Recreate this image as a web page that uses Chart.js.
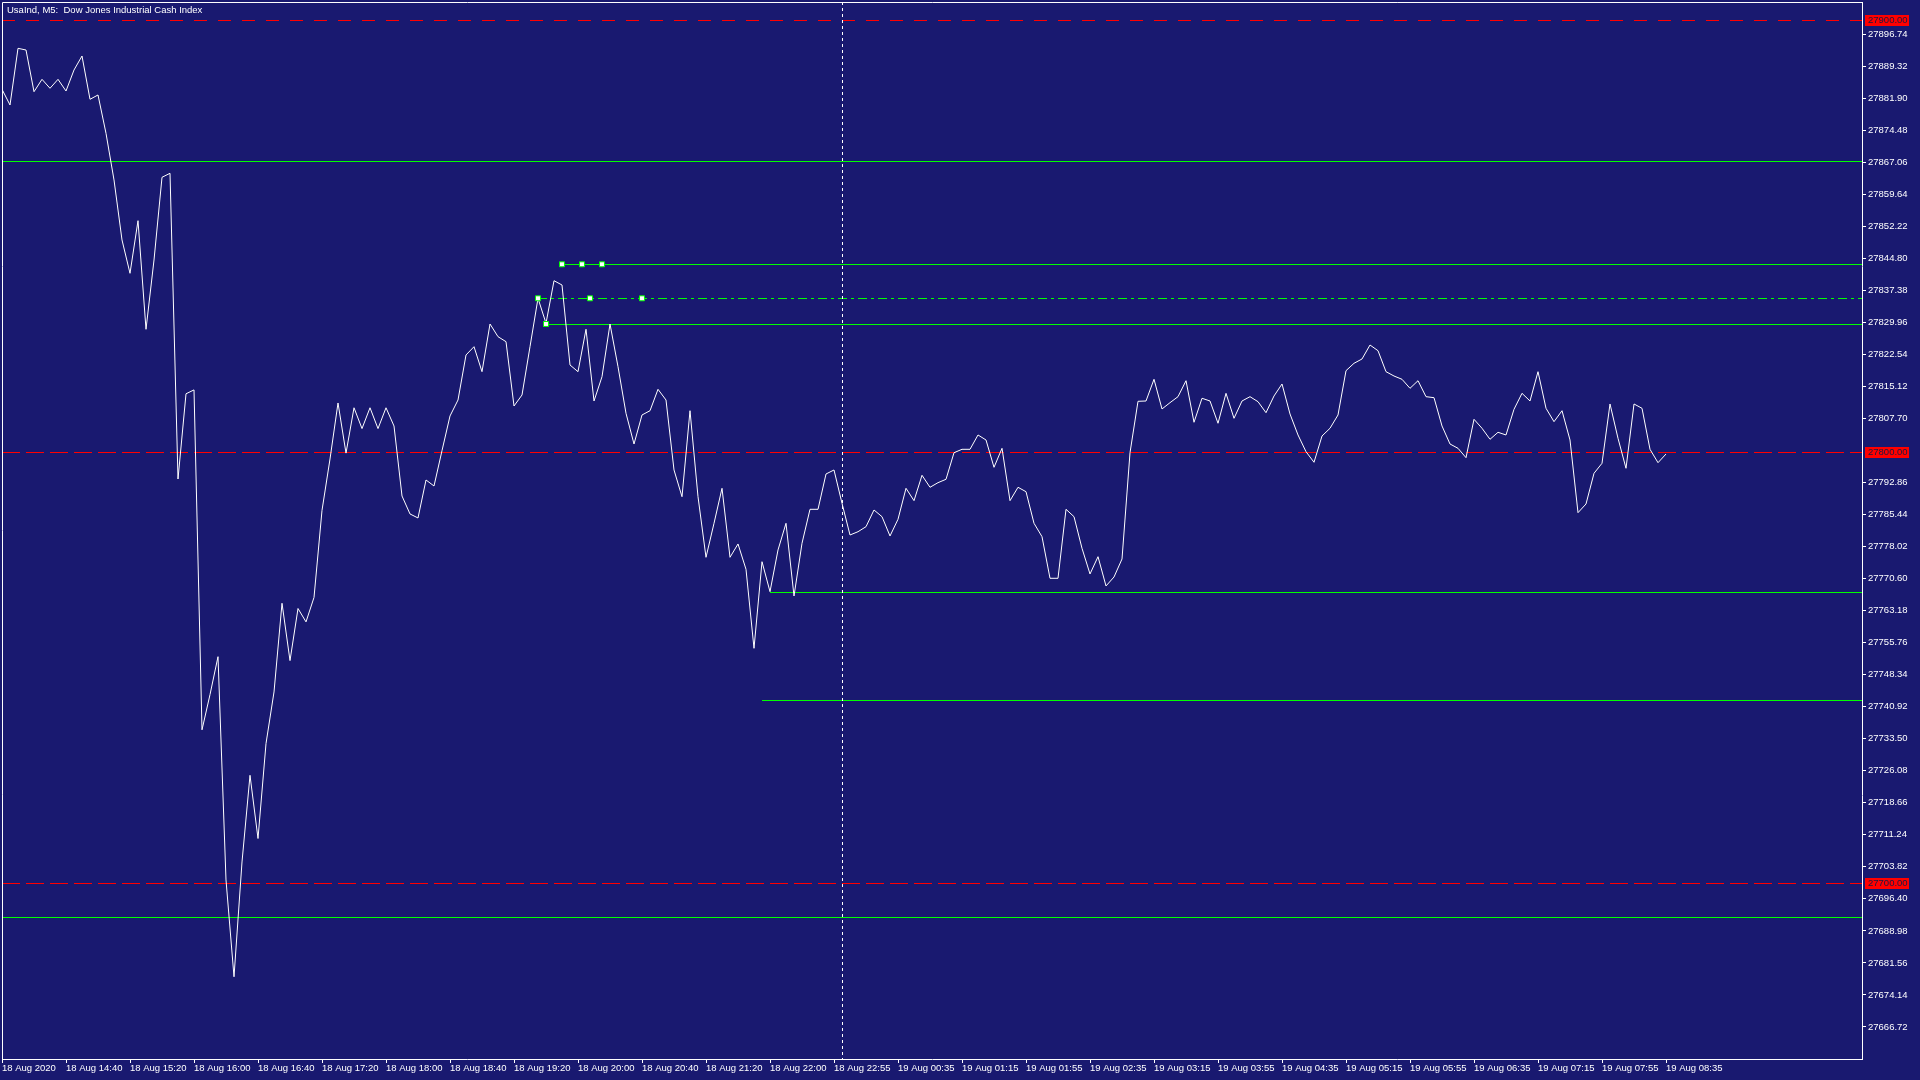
<!DOCTYPE html>
<html>
<head>
<meta charset="utf-8">
<title>UsaInd, M5</title>
<script src="https://cdn.jsdelivr.net/npm/chart.js@4.4.1/dist/chart.umd.min.js"></script>
<style>
  html, body { margin: 0; padding: 0; background: #191970; }
  #wrap { width: 1920px; height: 1080px; position: relative; }
</style>
</head>
<body>
<div id="wrap"><canvas id="priceChart"></canvas></div>
<script>
// Chart data (M5 closes, one per bar)
const chartTitle = "UsaInd, M5:  Dow Jones Industrial Cash Index";

const closes = [
  27883.94, 27880.30, 27893.43, 27893.04, 27883.38, 27886.25, 27884.17, 27886.25, 27883.54, 27888.41,
  27891.65, 27881.62, 27882.62, 27873.74, 27862.93, 27849.03, 27841.31, 27853.50, 27828.34, 27844.39,
  27863.55, 27864.48, 27793.66, 27813.40, 27814.30, 27735.56, 27743.72, 27752.50, 27700.77, 27678.35,
  27704.94, 27725.02, 27710.38, 27732.37, 27744.32, 27764.87, 27751.59, 27763.66, 27760.56, 27766.23,
  27786.39, 27798.30, 27811.27, 27799.66, 27810.16, 27805.34, 27810.16, 27805.34, 27810.16, 27805.94,
  27789.72, 27785.56, 27784.63, 27793.43, 27792.04, 27800.24, 27808.26, 27811.96, 27822.39, 27824.31,
  27818.52, 27829.57, 27826.63, 27825.47, 27810.57, 27813.12, 27824.31, 27835.52, 27829.73, 27839.60,
  27838.60, 27820.07, 27818.52, 27828.34, 27811.73, 27817.36, 27829.57, 27819.68, 27808.88, 27801.77,
  27808.49, 27809.48, 27814.44, 27811.96, 27795.75, 27789.56, 27809.48, 27789.56, 27775.52, 27783.40,
  27791.51, 27775.52, 27778.61, 27772.74, 27754.44, 27774.50, 27767.56, 27777.22, 27783.40, 27766.56,
  27778.77, 27786.64, 27786.64, 27794.82, 27795.75, 27788.03, 27780.69, 27781.45, 27782.61, 27786.48,
  27784.93, 27780.46, 27784.33, 27791.51, 27788.64, 27794.52, 27791.74, 27792.81, 27793.59, 27799.75,
  27800.54, 27800.54, 27803.86, 27802.70, 27796.37, 27800.77, 27788.64, 27791.74, 27790.72, 27783.40,
  27780.30, 27770.66, 27770.66, 27786.64, 27784.93, 27777.61, 27771.66, 27775.66, 27768.88, 27770.96,
  27775.13, 27799.75, 27811.66, 27811.73, 27816.76, 27809.88, 27811.34, 27812.73, 27816.43, 27806.80,
  27812.36, 27811.73, 27806.57, 27813.51, 27807.72, 27811.73, 27812.73, 27811.57, 27809.02, 27812.89,
  27815.67, 27808.72, 27803.86, 27799.99, 27797.53, 27803.62, 27805.41, 27808.49, 27818.75, 27820.46,
  27821.46, 27824.70, 27823.38, 27818.52, 27817.52, 27816.76, 27814.67, 27816.43, 27812.73, 27812.50,
  27805.94, 27801.77, 27800.77, 27798.60, 27807.49, 27805.41, 27802.86, 27804.48, 27803.86, 27809.81,
  27813.51, 27811.73, 27818.52, 27810.04, 27806.94, 27809.48, 27802.70, 27785.86, 27787.87, 27794.98,
  27797.30, 27811.04, 27803.09, 27796.14, 27811.04, 27810.04, 27800.54, 27797.44, 27799.45
];

const xTickLabels = [
  "18 Aug 2020", "18 Aug 14:40", "18 Aug 15:20", "18 Aug 16:00", "18 Aug 16:40", "18 Aug 17:20",
  "18 Aug 18:00", "18 Aug 18:40", "18 Aug 19:20", "18 Aug 20:00", "18 Aug 20:40", "18 Aug 21:20",
  "18 Aug 22:00", "18 Aug 22:55", "19 Aug 00:35", "19 Aug 01:15", "19 Aug 01:55", "19 Aug 02:35",
  "19 Aug 03:15", "19 Aug 03:55", "19 Aug 04:35", "19 Aug 05:15", "19 Aug 05:55", "19 Aug 06:35",
  "19 Aug 07:15", "19 Aug 07:55", "19 Aug 08:35"
];
const barsPerTick = 8;

const yTickLabels = [
  27666.72, 27674.14, 27681.56, 27688.98, 27696.40, 27703.82, 27711.24, 27718.66, 27726.08, 27733.50,
  27740.92, 27748.34, 27755.76, 27763.18, 27770.60, 27778.02, 27785.44, 27792.86, 27807.70, 27815.12,
  27822.54, 27829.96, 27837.38, 27844.80, 27852.22, 27859.64, 27867.06, 27874.48, 27881.90, 27889.32,
  27896.74
];
const yMin = 27659.30;
const yMax = 27904.16;
const xMax = 232.5;

// price levels (horizontal objects) on the chart
const redLevels = [27900, 27800, 27700];
const greenLevels = [27867.26, 27843.40, 27829.57, 27767.49, 27742.40, 27692.13];
const greenStarts = [0, 70, 68, 96, 95, 0];
const dashDotLevel = 27835.52;
const dashDotStart = 67;
const anchorBars = [70, 72.5, 75, 67, 73.5, 80, 68];
const anchorPrices = [27843.40, 27843.40, 27843.40, 27835.52, 27835.52, 27835.52, 27829.57];
const crosshairBar = 105;

const FONT_FAMILY = '"Liberation Sans", Arial, sans-serif';
const FONT_SIZE = 9.5;
const GREEN = "#00ff00";
const RED = "#ff0000";

// horizontal levels + crosshair, snapped to whole pixels like the terminal does
const levelLines = {
    id: "levelLines",
    beforeDatasetsDraw(chart) {
        const { ctx, chartArea: a } = chart;
        const { x, y } = chart.scales;
        ctx.save();
        ctx.beginPath();
        ctx.rect(a.left, a.top, a.width, a.height);
        ctx.clip();
        ctx.lineWidth = 1;

        function hline(value, fromBar, color, dash) {
            const py = Math.round(y.getPixelForValue(value)) + 0.5;
            ctx.strokeStyle = color;
            ctx.setLineDash(dash);
            ctx.beginPath();
            ctx.moveTo(Math.round(x.getPixelForValue(fromBar)), py);
            ctx.lineTo(a.right, py);
            ctx.stroke();
        }

        greenLevels.forEach((v, i) => hline(v, greenStarts[i], GREEN, []));
        hline(dashDotLevel, dashDotStart, GREEN, [9, 4, 3, 4]);
        redLevels.forEach((v, i) => hline(v, 0, RED, i === 0 ? [13, 11] : [18, 6]));

        // crosshair
        const px = Math.round(x.getPixelForValue(crosshairBar)) + 0.5;
        ctx.strokeStyle = "#ffffff";
        ctx.setLineDash([3, 3]);
        ctx.beginPath();
        ctx.moveTo(px, a.top);
        ctx.lineTo(px, a.bottom);
        ctx.stroke();
        ctx.restore();
    }
};

// frame, title and red price tags
const overlay = {
    id: "overlay",
    afterDraw(chart) {
        const { ctx, chartArea: a } = chart;
        const y = chart.scales.y;
        ctx.save();
        ctx.strokeStyle = "#ffffff";
        ctx.lineWidth = 1;
        ctx.beginPath();
        ctx.moveTo(a.left + 0.5, a.bottom);
        ctx.lineTo(a.left + 0.5, a.top + 0.5);
        ctx.lineTo(a.right, a.top + 0.5);
        ctx.stroke();

        ctx.font = FONT_SIZE + "px " + FONT_FAMILY;
        ctx.fillStyle = "#ffffff";
        ctx.textBaseline = "alphabetic";
        ctx.fillText(chartTitle, a.left + 5, a.top + 11);

        ctx.textBaseline = "middle";
        redLevels.forEach(v => {
            const py = Math.round(y.getPixelForValue(v));
            ctx.fillStyle = RED;
            ctx.fillRect(a.right + 3, py - 5, 44, 11);
            ctx.fillStyle = "#1a1a40";
            ctx.fillText(v.toFixed(2), a.right + 6, py + 0.5);
        });
        ctx.restore();
    }
};

function noPadding(scale) {
    scale.paddingLeft = 0;
    scale.paddingRight = 0;
    scale.paddingTop = 0;
    scale.paddingBottom = 0;
}

const ctx = document.getElementById("priceChart").getContext("2d");
new Chart(ctx, {
    type: "line",
    data: {
        datasets: [
            {
                label: "anchors",
                data: anchorBars.map((b, i) => ({ x: b, y: anchorPrices[i] })),
                showLine: false,
                pointStyle: "rect",
                pointRadius: 3.5,
                pointBorderWidth: 1,
                pointBorderColor: GREEN,
                pointBackgroundColor: "#ffffff",
                order: 0,
            },
            {
                label: "UsaInd",
                data: closes.map((v, i) => ({ x: i, y: v })),
                borderColor: "#ffffff",
                borderWidth: 1,
                pointRadius: 0,
                tension: 0,
                order: 1,
            },
        ],
    },
    plugins: [levelLines, overlay],
    options: {
        responsive: true,
        maintainAspectRatio: false,
        animation: false,
        devicePixelRatio: 1,
        layout: { autoPadding: false, padding: { left: 2, top: 2, right: 0, bottom: 0 } },
        plugins: {
            legend: { display: false },
            tooltip: { enabled: false },
        },
        scales: {
            x: {
                type: "linear",
                min: 0,
                max: xMax,
                afterBuildTicks: scale => {
                    scale.ticks = xTickLabels.map((_, k) => ({ value: k * barsPerTick }));
                },
                afterFit: scale => {
                    scale.height = 21;
                    noPadding(scale);
                },
                grid: { drawOnChartArea: false, drawTicks: true, tickLength: 4, color: "#ffffff" },
                border: { color: "#ffffff", width: 1 },
                ticks: {
                    autoSkip: false,
                    maxRotation: 0,
                    align: "start",
                    padding: 0,
                    color: "#ffffff",
                    font: { family: FONT_FAMILY, size: FONT_SIZE },
                    callback: (value, index) => xTickLabels[index],
                },
            },
            y: {
                position: "right",
                min: yMin,
                max: yMax,
                afterBuildTicks: scale => {
                    scale.ticks = yTickLabels.map(v => ({ value: v }));
                },
                afterFit: scale => {
                    scale.width = 58;
                    noPadding(scale);
                },
                grid: { drawOnChartArea: false, drawTicks: true, tickLength: 4, color: "#ffffff" },
                border: { color: "#ffffff", width: 1 },
                ticks: {
                    autoSkip: false,
                    padding: 2,
                    color: "#ffffff",
                    font: { family: FONT_FAMILY, size: FONT_SIZE },
                    callback: value => Number(value).toFixed(2),
                },
            },
        },
    },
});
</script>
</body>
</html>
